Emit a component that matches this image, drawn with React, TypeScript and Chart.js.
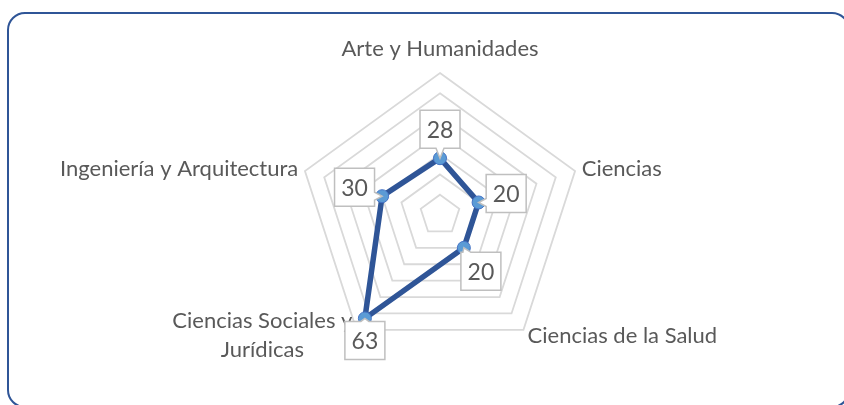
import React, { useEffect, useRef } from 'react';
import { Chart, registerables } from 'chart.js';

Chart.register(...registerables);

// ---- data ----
const categories: (string | string[])[] = [
  'Arte y Humanidades',
  'Ciencias',
  'Ciencias de la Salud',
  ['Ciencias Sociales y', 'Jurídicas'],
  'Ingeniería y Arquitectura',
];
const values: number[] = [28, 20, 20, 63, 30];
const scaleMin = 0;
const scaleMax = 70;
const scaleStep = 10;

// ---- style ----
const FONT = 'Lato, "Noto Sans", sans-serif';
const TEXT = '#595959';
const LINE = '#2F5597';
const MARKER = '#5B9BD5';
const MARKER_BORDER = '#4472C4';
const GRID = '#D9D9D9';
const CALLOUT_BORDER = '#BFBFBF';
// how each value callout is placed: 'auto' = outward from the centre
const calloutPlacement = ['auto', 'auto', 'auto', 'below', 'auto'];

const radarDecor = {
  id: 'radarDecor',
  beforeDatasetsDraw(chart: any) {
    const ctx = chart.ctx as CanvasRenderingContext2D;
    const scale = chart.scales.r;
    const R = scale.drawingArea;
    const xc = scale.xCenter;
    const yc = scale.yCenter;
    ctx.save();
    ctx.font = `22px ${FONT}`;
    ctx.fillStyle = TEXT;
    ctx.textAlign = 'center';
    ctx.textBaseline = 'middle';
    (chart.data.labels as any[]).forEach((lab, i) => {
      const lines: string[] = Array.isArray(lab) ? lab : [lab];
      const base = scale.getPointPosition(i, R);
      const isTop = Math.abs(base.x - xc) < 1 && base.y < yc;
      const p = scale.getPointPosition(i, R + (isTop ? 24 : 7));
      const maxW = Math.max(...lines.map((l) => ctx.measureText(l).width));
      let cx = p.x;
      if (!isTop) cx = p.x > xc ? p.x + maxW / 2 : p.x - maxW / 2;
      const lh = 29;
      const y0 = p.y - ((lines.length - 1) * lh) / 2;
      lines.forEach((l, k) => ctx.fillText(l, cx, y0 + k * lh));
    });
    ctx.restore();
  },
  afterDatasetsDraw(chart: any) {
    const ctx = chart.ctx as CanvasRenderingContext2D;
    const scale = chart.scales.r;
    const xc = scale.xCenter;
    const yc = scale.yCenter;
    const meta = chart.getDatasetMeta(0);
    const data = chart.data.datasets[0].data as number[];
    ctx.save();
    ctx.font = `23px ${FONT}`;
    meta.data.forEach((el: any, i: number) => {
      const px = el.x;
      const py = el.y;
      const w = 40;
      const h = 38;
      let bx: number, by: number;
      if (calloutPlacement[i] === 'below') {
        bx = px;
        by = py + 3 + h / 2;
      } else {
        const dx = px - xc;
        const dy = py - yc;
        const len = Math.hypot(dx, dy) || 1;
        bx = px + (dx / len) * 29;
        by = py + (dy / len) * 29;
      }
      const x0 = bx - w / 2;
      const x1 = bx + w / 2;
      const y0 = by - h / 2;
      const y1 = by + h / 2;
      let edge: string;
      if (py > y1) edge = 'bottom';
      else if (py < y0) edge = 'top';
      else if (px < x0) edge = 'left';
      else edge = 'right';
      const tw = 8;
      const clamp = (v: number, a: number, b: number) => Math.max(a, Math.min(b, v));
      ctx.beginPath();
      ctx.moveTo(x0, y0);
      if (edge === 'top') {
        const a = clamp(px - tw / 2, x0 + 2, x1 - tw - 2);
        ctx.lineTo(a, y0);
        ctx.lineTo(px, py);
        ctx.lineTo(a + tw, y0);
      }
      ctx.lineTo(x1, y0);
      if (edge === 'right') {
        const a = clamp(py - tw / 2, y0 + 2, y1 - tw - 2);
        ctx.lineTo(x1, a);
        ctx.lineTo(px, py);
        ctx.lineTo(x1, a + tw);
      }
      ctx.lineTo(x1, y1);
      if (edge === 'bottom') {
        const a = clamp(px - tw / 2, x0 + 2, x1 - tw - 2);
        ctx.lineTo(a + tw, y1);
        ctx.lineTo(px, py);
        ctx.lineTo(a, y1);
      }
      ctx.lineTo(x0, y1);
      if (edge === 'left') {
        const a = clamp(py - tw / 2, y0 + 2, y1 - tw - 2);
        ctx.lineTo(x0, a + tw);
        ctx.lineTo(px, py);
        ctx.lineTo(x0, a);
      }
      ctx.closePath();
      ctx.fillStyle = '#FFFFFF';
      ctx.fill();
      ctx.lineWidth = 1.5;
      ctx.strokeStyle = CALLOUT_BORDER;
      ctx.stroke();
      ctx.fillStyle = TEXT;
      ctx.textAlign = 'center';
      ctx.textBaseline = 'middle';
      ctx.fillText(String(data[i]), bx, by + 1);
    });
    ctx.restore();
  },
};

export default function App() {
  const ref = useRef<HTMLCanvasElement>(null);
  useEffect(() => {
    const chart = new Chart(ref.current as HTMLCanvasElement, {
      type: 'radar',
      data: {
        labels: categories as any,
        datasets: [
          {
            data: values,
            borderColor: LINE,
            borderWidth: 5.5,
            fill: false,
            tension: 0,
            pointRadius: 6.5,
            pointBackgroundColor: MARKER,
            pointBorderColor: MARKER_BORDER,
            pointBorderWidth: 1,
          },
        ],
      },
      options: {
        animation: false,
        responsive: false,
        events: [],
        layout: { padding: { top: 73, bottom: 48, left: 100, right: 64 } },
        plugins: { legend: { display: false }, tooltip: { enabled: false } },
        scales: {
          r: {
            min: scaleMin,
            max: scaleMax,
            ticks: { stepSize: scaleStep, display: false },
            grid: { color: GRID, lineWidth: 1.8 },
            angleLines: { display: false },
            pointLabels: { display: false },
          },
        },
      },
      plugins: [radarDecor],
    });
    return () => chart.destroy();
  }, []);
  return (
    <div
      style={{
        position: 'fixed',
        left: 0,
        top: 0,
        width: 844,
        height: 405,
        background: '#FFFFFF',
        overflow: 'hidden',
      }}
    >
      <div
        style={{
          position: 'absolute',
          left: 7,
          top: 12,
          width: 843,
          height: 396,
          border: `2px solid ${LINE}`,
          borderRadius: 18,
          boxSizing: 'border-box',
        }}
      />
      <canvas
        ref={ref}
        width={844}
        height={405}
        style={{ position: 'absolute', left: 0, top: 0, width: 844, height: 405 }}
      />
    </div>
  );
}
